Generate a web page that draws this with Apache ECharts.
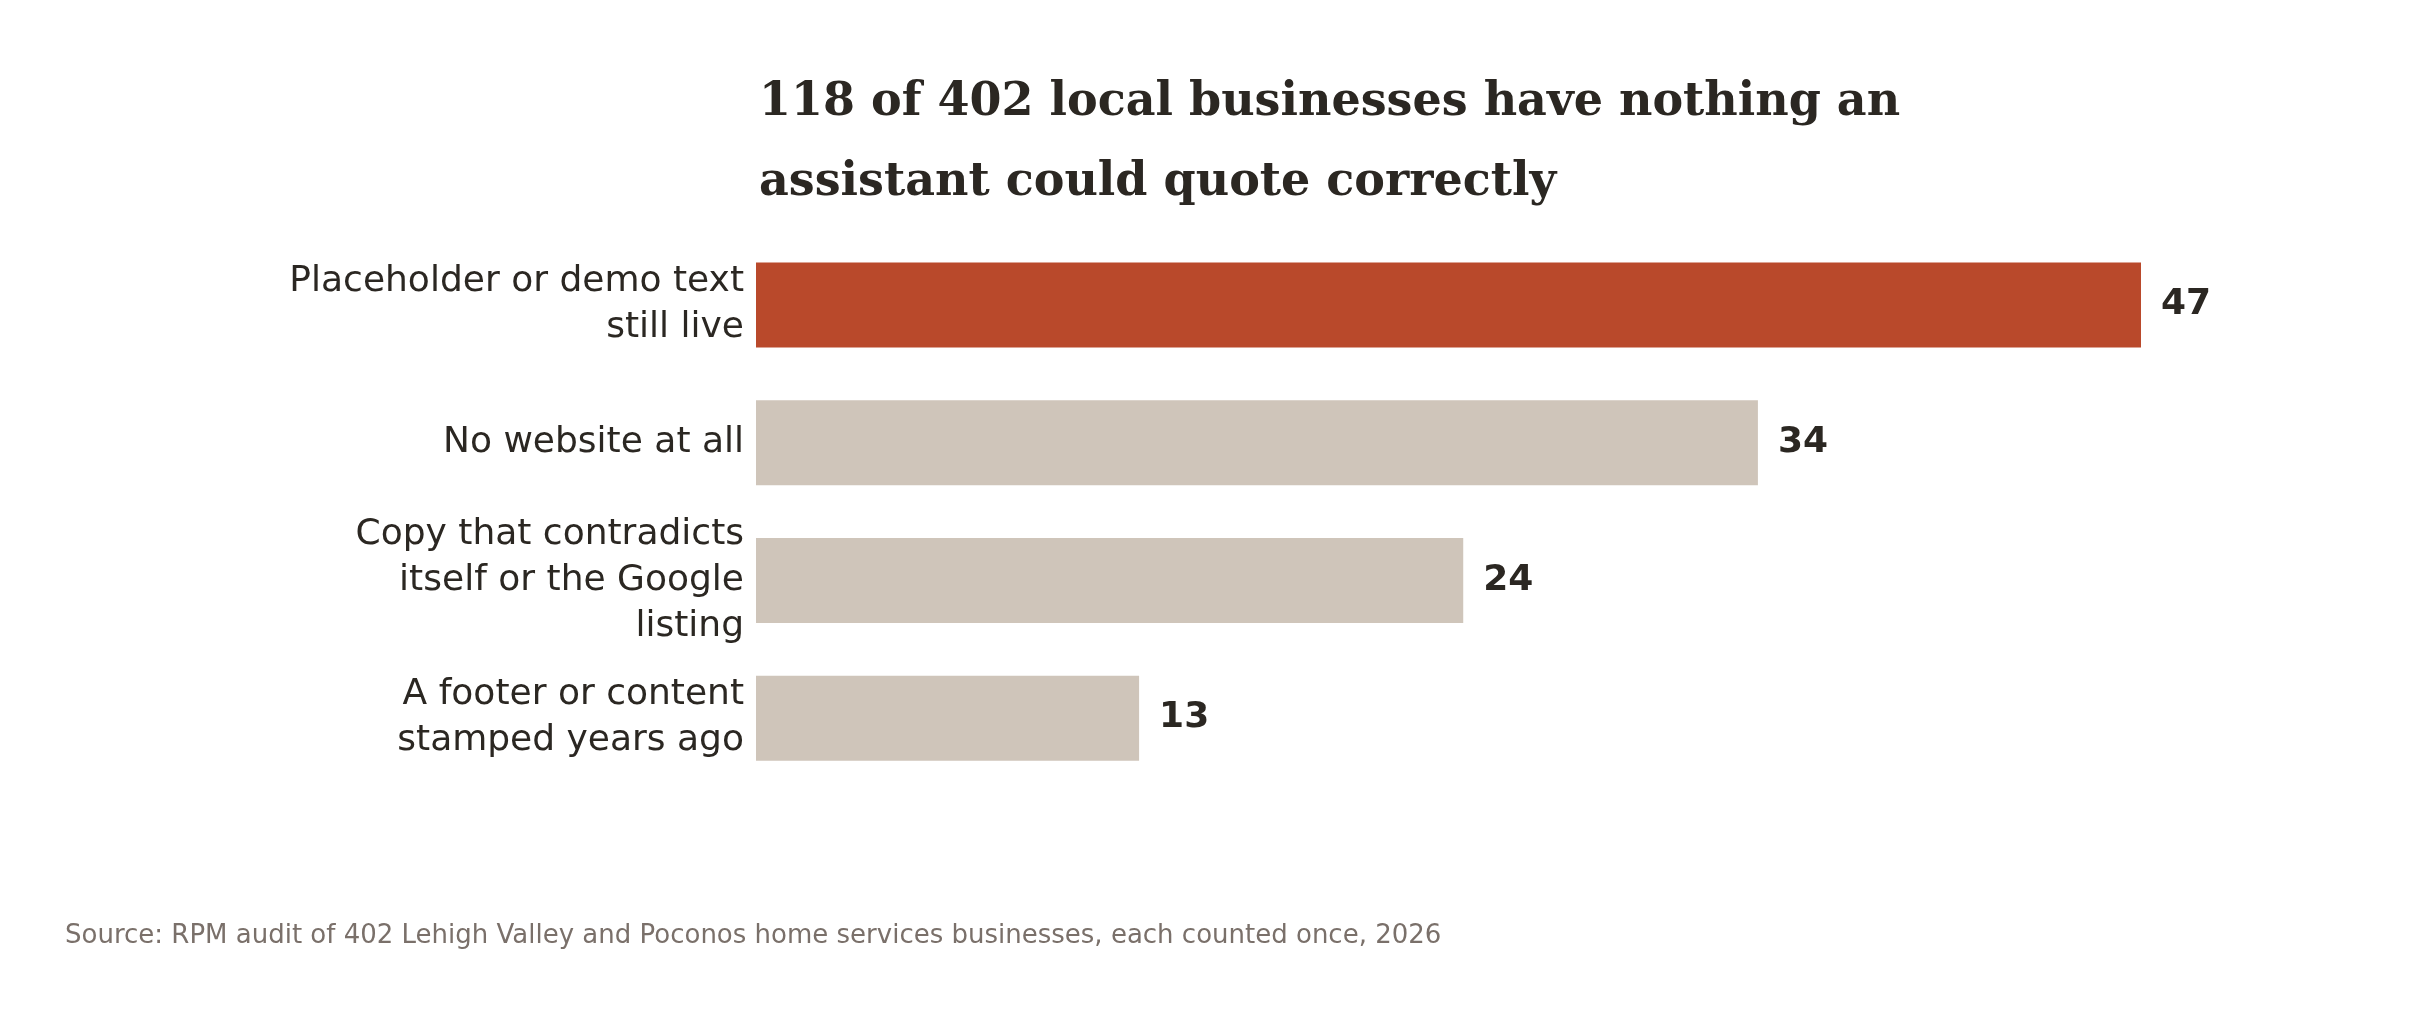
<!DOCTYPE html>
<html><head><meta charset="utf-8">
<script src="https://cdn.jsdelivr.net/npm/echarts@6/dist/echarts.min.js"></script>
<style>html,body{margin:0;padding:0;background:#fff}#c{width:2424px;height:1010px}</style>
</head><body><div id="c"></div>
<script>
const categories = ["Placeholder or demo text\nstill live", "No website at all", "Copy that contradicts\nitself or the Google\nlisting", "A footer or content\nstamped years ago"];
const values = [47, 34, 24, 13];
const colors = ["#b9492b", "#cfc5ba", "#cfc5ba", "#cfc5ba"];
const chart = echarts.init(document.getElementById('c'));
chart.setOption({
  backgroundColor: '#fff',
  animation: false,
  title: [{
    text: "118 of 402 local businesses have nothing an\nassistant could quote correctly",
    left: 754, top: 58,
    textStyle: {fontFamily: 'DejaVu Serif', fontWeight: 'bold', fontSize: 46, lineHeight: 80, color: '#2b2722'}
  }, {
    text: "Source: RPM audit of 402 Lehigh Valley and Poconos home services businesses, each counted once, 2026",
    left: 60, top: 918,
    textStyle: {fontFamily: 'DejaVu Sans', fontWeight: 'normal', fontSize: 26, color: '#7a706a'}
  }],
  grid: {left: 756, right: 283, top: 236, bottom: 223},
  xAxis: {type: 'value', min: 0, max: 47, show: false},
  yAxis: {type: 'category', data: categories, inverse: true,
    axisLine: {show: false}, axisTick: {show: false},
    axisLabel: {margin: 12, fontFamily: 'DejaVu Sans', fontSize: 36, lineHeight: 46, color: '#2b2722', align: 'right'}},
  series: [{
    type: 'bar', barWidth: 85,
    data: values.map((v, i) => ({value: v, itemStyle: {color: colors[i]}})),
    label: {show: true, position: 'right', distance: 20, fontFamily: 'DejaVu Sans', fontWeight: 'bold', fontSize: 36, color: '#2b2722'}
  }]
});
</script></body></html>
